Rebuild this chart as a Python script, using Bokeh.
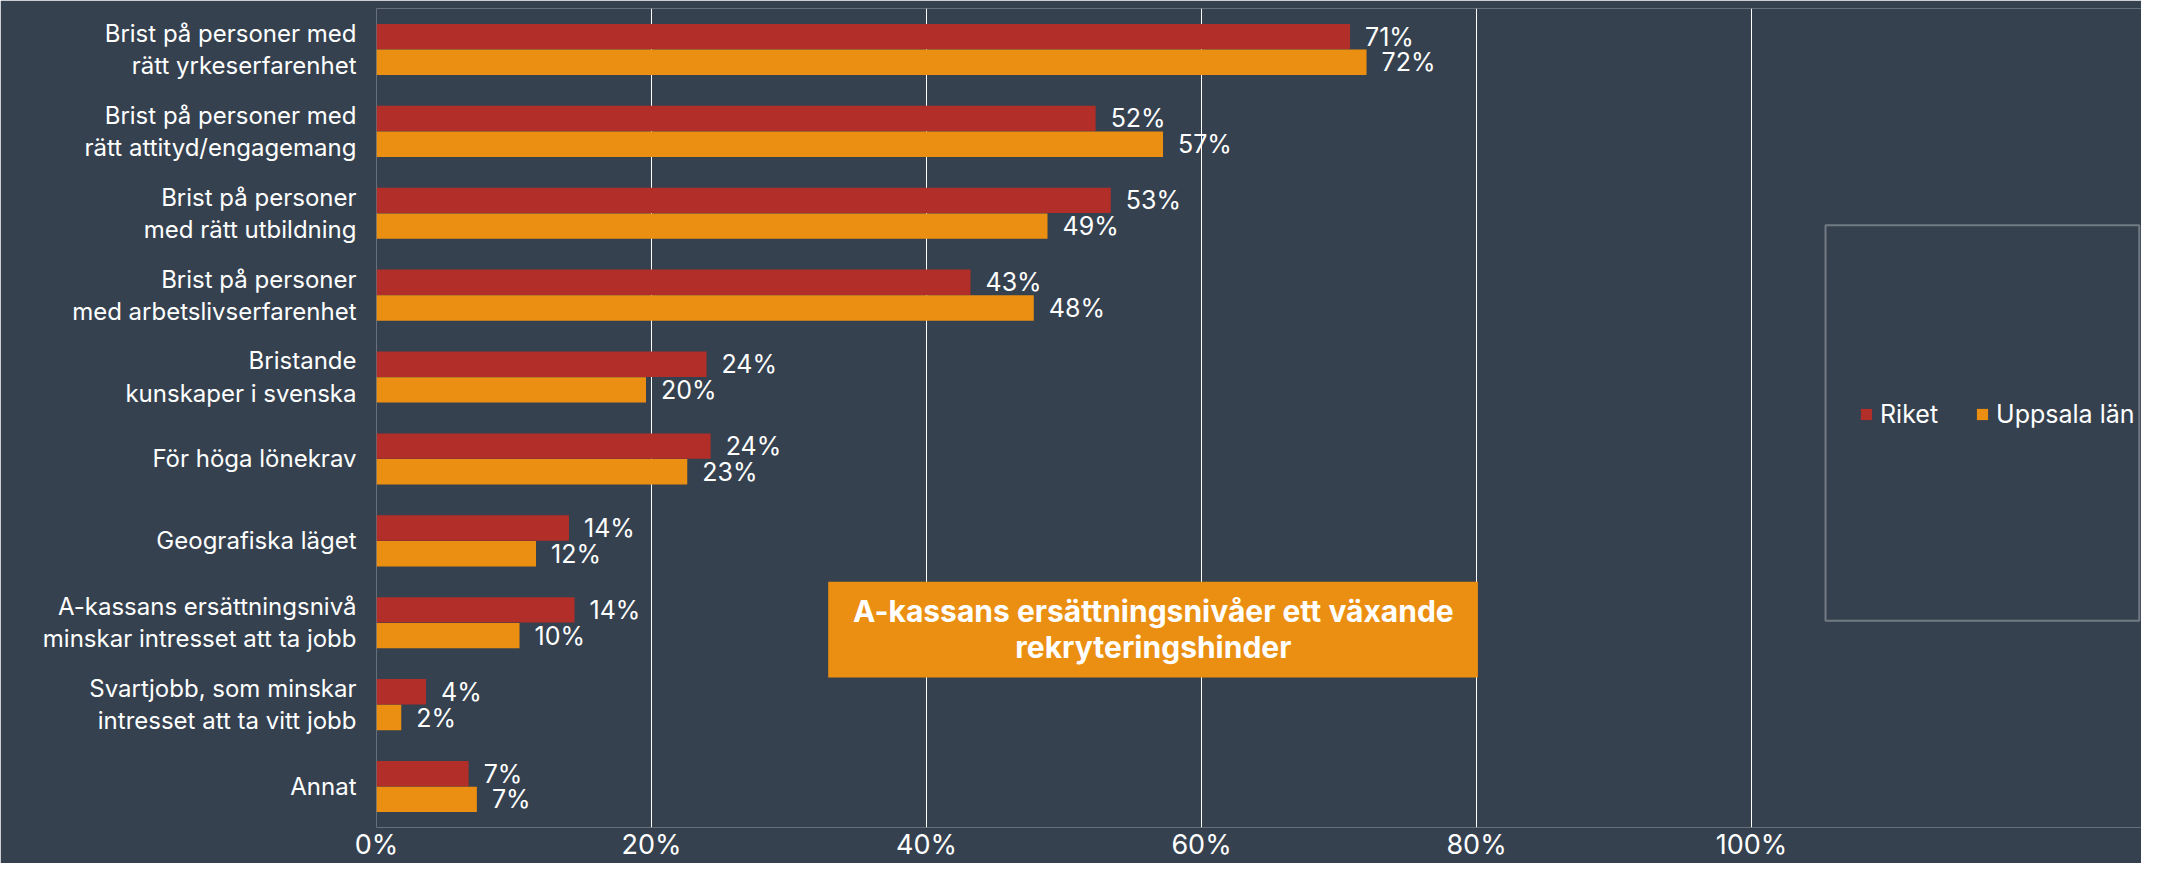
from bokeh.plotting import figure
from bokeh.models import (FactorRange, FixedTicker, PrintfTickFormatter, Legend, LegendItem,
                          BoxAnnotation, Label, ColumnDataSource)
from bokeh.transform import dodge
from bokeh.embed import file_html
from bokeh.resources import INLINE
from bokeh.core.properties import value

categories = [
    "Brist på personer med\nrätt yrkeserfarenhet",
    "Brist på personer med\nrätt attityd/engagemang",
    "Brist på personer\nmed rätt utbildning",
    "Brist på personer\nmed arbetslivserfarenhet",
    "Bristande\nkunskaper i svenska",
    "För höga lönekrav",
    "Geografiska läget",
    "A-kassans ersättningsnivå\nminskar intresset att ta jobb",
    "Svartjobb, som minskar\nintresset att ta vitt jobb",
    "Annat",
]
riket = [70.8, 52.3, 53.4, 43.2, 24.0, 24.3, 14.0, 14.4, 3.6, 6.7]
uppsala = [72.0, 57.2, 48.8, 47.8, 19.6, 22.6, 11.6, 10.4, 1.8, 7.3]
series_names = ["Riket", "Uppsala län"]
x_ticks = [0, 20, 40, 60, 80, 100]
callout = "A-kassans ersättningsnivåer ett växande\nrekryteringshinder"

BG = "#35414f"
RED = "#b22e28"
ORANGE = "#eb8f13"
FONT = "Inter"

src = ColumnDataSource(dict(
    cat=categories, riket=riket, uppsala=uppsala,
    riket_lbl=[f"{round(v)}%" for v in riket],
    uppsala_lbl=[f"{round(v)}%" for v in uppsala],
))

W, H = 2141, 863
p = figure(width=W, height=H, output_backend="svg", toolbar_location=None,
           y_range=FactorRange(factors=categories[::-1], range_padding=0),
           x_range=(0, 128.36),
           min_border_left=376, min_border_right=0, min_border_top=8, min_border_bottom=0)
p.background_fill_color = BG
p.border_fill_color = BG
p.outline_line_color = None

bh = 0.31
r1 = p.hbar(y=dodge("cat", 0.157, range=p.y_range), right="riket", left=0, height=bh,
            source=src, fill_color=RED, line_color=None)
r2 = p.hbar(y=dodge("cat", -0.157, range=p.y_range), right="uppsala", left=0, height=bh,
            source=src, fill_color=ORANGE, line_color=None)

p.text(x="riket", y=dodge("cat", 0.157, range=p.y_range), text="riket_lbl", source=src,
       x_offset=15, text_baseline="middle", text_align="left", text_color="white",
       text_font=value(FONT), text_font_size="25px")
p.text(x="uppsala", y=dodge("cat", -0.157, range=p.y_range), text="uppsala_lbl", source=src,
       x_offset=15, text_baseline="middle", text_align="left", text_color="white",
       text_font=value(FONT), text_font_size="25px")

# axes
p.xaxis.ticker = FixedTicker(ticks=x_ticks)
p.xaxis.formatter = PrintfTickFormatter(format="%d%%")
p.xaxis.axis_line_color = None
p.xaxis.major_tick_line_color = None
p.xaxis.minor_tick_line_color = None
p.xaxis.major_tick_out = 0
p.xaxis.major_tick_in = 0
p.xaxis.major_label_standoff = 0
p.xaxis.major_label_text_color = "white"
p.xaxis.major_label_text_font = FONT
p.xaxis.major_label_text_font_size = "27px"

p.yaxis.axis_line_color = None
p.yaxis.major_tick_line_color = None
p.yaxis.minor_tick_line_color = None
p.yaxis.major_tick_out = 0
p.yaxis.major_tick_in = 0
p.yaxis.major_label_standoff = 20
p.yaxis.major_label_text_color = "white"
p.yaxis.major_label_text_font = FONT
p.yaxis.major_label_text_font_size = "24px"
p.yaxis.major_label_text_line_height = 1.11

p.xgrid.ticker = FixedTicker(ticks=x_ticks)
p.xgrid.grid_line_color = "white"
p.xgrid.grid_line_width = 1
p.ygrid.grid_line_color = None

# callout box
p.add_layout(BoxAnnotation(left=32.85, right=80.1, top=3.0, bottom=1.83,
                           fill_color=ORANGE, fill_alpha=1.0, line_color=None))
p.add_layout(Label(x=56.5, y=2.42, text=callout, text_align="center", text_baseline="middle",
                   text_color="white", text_font=FONT, text_font_size="30px",
                   text_font_style="bold", text_line_height=1.0))

# legend frame
p.add_layout(BoxAnnotation(left=105.38, right=128.2, top=7.355, bottom=2.524,
                           fill_alpha=0, line_color="white", line_width=2))

legend = Legend(items=[LegendItem(label=series_names[0], renderers=[r1]),
                       LegendItem(label=series_names[1], renderers=[r2])],
                orientation="horizontal", location=(1483, 398),
                glyph_width=14, glyph_height=14, label_height=14, label_standoff=7,
                spacing=37, padding=0, margin=0,
                border_line_color=None, background_fill_alpha=0,
                label_text_color="white", label_text_font=FONT, label_text_font_size="25px",
                label_text_baseline="middle")
p.add_layout(legend)

open("out.html", "w").write(file_html(p, INLINE))
